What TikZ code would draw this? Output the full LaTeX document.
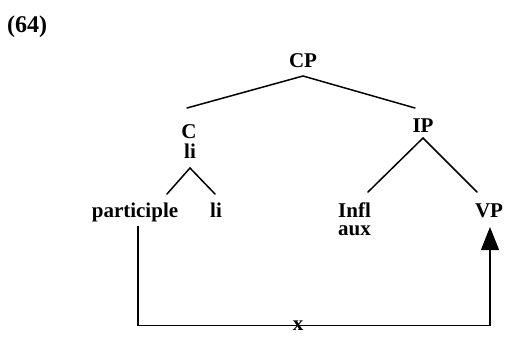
\documentclass[tikz,border=0pt]{standalone}
\usepackage{fontspec}
\setmainfont{Liberation Serif}
\usetikzlibrary{arrows.meta}
\begin{document}
\begin{tikzpicture}[x=1pt,y=-1pt,
  lbl/.style={font=\fontsize{21}{18}\selectfont\bfseries,inner sep=0pt,anchor=base},
  edge/.style={line width=1.5pt,line cap=round},
  mv/.style={line width=1.1pt}]
\useasboundingbox (0,0) rectangle (507,337);
\node[lbl,font=\fontsize{24}{26}\selectfont\bfseries,anchor=base west] (ex) at (7,33) {(64)};
\node[lbl] (CP) at (303,68) {CP};
\node[lbl] (C) at (189,139) {C};
\node[lbl] (Cli) at (190,159) {li};
\node[lbl] (IP) at (423,132) {IP};
\node[lbl] (part) at (135,218) {participle};
\node[lbl] (li) at (216,218) {li};
\node[lbl,align=left,anchor=base west] (Infl) at (338,236) {Infl\\aux};
\node[lbl] (VP) at (489,218) {VP};
\node[lbl,anchor=base] (x) at (298,330) {x};
% edge endpoints
\coordinate (cpA) at (303,76);
\coordinate (cL) at (187,108);
\coordinate (ipT) at (415,108);
\coordinate (cA) at (190,168);
\coordinate (pT) at (167,194);
\coordinate (lT) at (215,194);
\coordinate (ipA) at (423,138);
\coordinate (iT) at (368,192);
\coordinate (vT) at (477,192);
\coordinate (pB) at (138,226);
\coordinate (vB) at (490,227);
\draw[edge] (cL) -- (cpA) -- (ipT);
\draw[edge] (pT) -- (cA) -- (lT);
\draw[edge] (iT) -- (ipA) -- (vT);
\draw[mv,-{Triangle[width=18pt,length=23pt]}] (pB) |- (x.center) -| (vB);
\end{tikzpicture}
\end{document}
